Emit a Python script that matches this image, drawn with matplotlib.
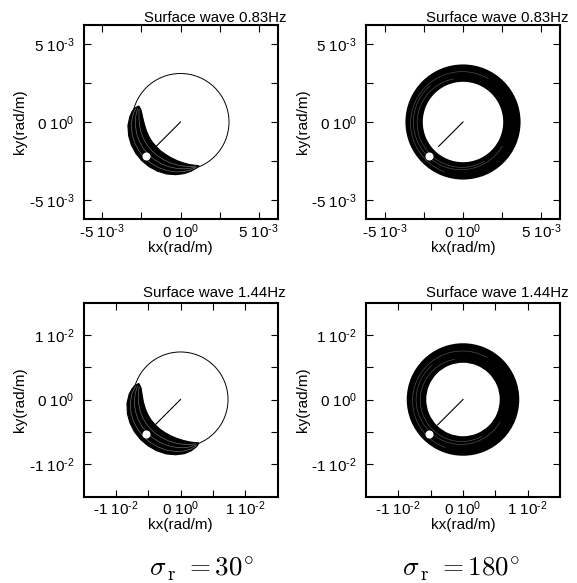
import numpy as np
import matplotlib.pyplot as plt
from matplotlib.patches import Circle, Wedge, Arc, Polygon

plt.rcParams['font.family'] = 'Liberation Sans'
plt.rcParams['mathtext.fontset'] = 'custom'
plt.rcParams['mathtext.rm'] = 'Liberation Sans'
plt.rcParams['mathtext.it'] = 'Liberation Sans:italic'
plt.rcParams['mathtext.bf'] = 'Liberation Sans:bold'

# ---- values ----
titles = ['Surface wave 0.83Hz', 'Surface wave 1.44Hz']
sigma_r = [30, 180]
ax_lim = [6.2e-3, 1.5e-2]

ticks_083 = [-5e-3, -2.5e-3, 0.0, 2.5e-3, 5e-3]
ticklabels_083 = [r'-5 $10^{\text{-}3}$', '', r'0 $10^{0}$', '', r'5 $10^{\text{-}3}$']
ticks_144 = [-1e-2, -5e-3, 0.0, 5e-3, 1e-2]
ticklabels_144 = [r'-1 $10^{\text{-}2}$', '', r'0 $10^{0}$', '', r'1 $10^{\text{-}2}$']

k_circle_r = [3.10e-3, 7.35e-3]      # thin wavenumber circle (left panels)
beam_angle = 225.0                   # direction of the source line / dot (deg)
beam_len = [2.20e-3, 5.55e-3]
dot_r = [3.10e-3, 7.45e-3]

# crescent outline (sigma_r = 30): polar angle (deg), inner / outer radius (1e-3 rad/m)
cres_ang = [159, 163, 168, 174, 184, 195, 205, 215, 225, 235, 245, 255, 265, 274, 282, 289, 293]
cres_in_083 = [2.85, 2.64, 2.52, 2.42, 2.31, 2.25, 2.22, 2.21, 2.21, 2.24, 2.28, 2.36, 2.48, 2.62, 2.78, 2.93, 3.03]
cres_out_083 = [2.85, 3.06, 3.17, 3.26, 3.37, 3.43, 3.47, 3.49, 3.50, 3.49, 3.47, 3.44, 3.38, 3.31, 3.22, 3.12, 3.03]
cres_in_144 = [6.90, 6.40, 6.15, 5.95, 5.75, 5.62, 5.56, 5.54, 5.54, 5.58, 5.66, 5.82, 6.05, 6.35, 6.70, 7.05, 7.30]
cres_out_144 = [6.90, 7.40, 7.70, 7.98, 8.30, 8.50, 8.62, 8.70, 8.74, 8.75, 8.74, 8.70, 8.58, 8.40, 8.10, 7.70, 7.30]
cres_grey_frac = [0.3, 0.55, 0.8]

# ring (sigma_r = 180): inner / outer radius
ring_083 = [2.57e-3, 3.68e-3]
ring_144 = [5.68e-3, 8.70e-3]
# faint lighter tracks inside the ring: radius, centre dx, dy, from / to angle
ring_grey_083 = [(2.85e-3, -0.08e-3, -0.05e-3, 100, 300), (3.05e-3, -0.12e-3, 0.0, 130, 330),
                 (3.30e-3, -0.05e-3, -0.08e-3, 60, 250)]
ring_grey_144 = [(6.40e-3, -0.20e-3, -0.10e-3, 100, 300), (6.95e-3, -0.30e-3, 0.0, 130, 330),
                 (7.70e-3, -0.10e-3, -0.20e-3, 60, 250)]

fig = plt.figure(figsize=(5.77, 5.83), dpi=100)

W, H = 577.0, 583.0
axw, axh = 194.0, 194.0
lefts = [83.5, 366.0]
tops = [25.0, 302.5]
FS = 11


def polar(r, ang):
    a = np.deg2rad(ang)
    return np.asarray(r) * np.cos(a), np.asarray(r) * np.sin(a)


def style_axes(ax, lim, ticks, labels):
    ax.set_xlim(-lim, lim)
    ax.set_ylim(-lim, lim)
    ax.set_xticks(ticks)
    ax.set_yticks(ticks)
    ax.set_xticklabels(labels)
    ax.set_yticklabels(labels)
    ax.tick_params(direction='in', top=True, right=True, length=4.8, width=0.8,
                   labelsize=FS)
    ax.tick_params(axis='y', pad=6.5)
    ax.tick_params(axis='x', pad=2.2)
    for s in ax.spines.values():
        s.set_linewidth(1.5)
    ax.set_xlabel('kx(rad/m)', fontsize=FS)
    ax.set_ylabel('ky(rad/m)', fontsize=FS)
    ax.xaxis.set_label_coords(0.5, -0.112)
    ax.yaxis.set_label_coords(-0.29, 0.5)


for row in range(2):
    lim = ax_lim[row]
    ticks = [ticks_083, ticks_144][row]
    labels = [ticklabels_083, ticklabels_144][row]
    for col in range(2):
        rect = [lefts[col] / W, 1 - (tops[row] + axh) / H, axw / W, axh / H]
        ax = fig.add_axes(rect)
        style_axes(ax, lim, ticks, labels)
        ax.text(1 + 8.5 / axw, 1 + (2.5 if row == 0 else 5.5) / axh, titles[row],
                transform=ax.transAxes, ha='right', va='baseline', fontsize=10.8)

        if col == 0:
            ax.add_patch(Circle((0, 0), k_circle_r[row], fill=False, ec='black', lw=0.7))
            rin = np.array([cres_in_083, cres_in_144][row]) * 1e-3
            rout = np.array([cres_out_083, cres_out_144][row]) * 1e-3
            xo, yo = polar(rout, cres_ang)
            xi, yi = polar(rin, cres_ang)
            poly = np.column_stack([np.r_[xo, xi[::-1]], np.r_[yo, yi[::-1]]])
            ax.add_patch(Polygon(poly, closed=True, fc='black', ec='black', lw=0.8))
            for f in cres_grey_frac:
                xg, yg = polar(rin + f * (rout - rin), cres_ang)
                ax.plot(xg[1:-1], yg[1:-1], color='0.42', lw=0.5)
        else:
            rin, rout = [ring_083, ring_144][row]
            ax.add_patch(Wedge((0, 0), rout, 0, 360, width=rout - rin, fc='black', ec='none'))
            for r, dx, dy, a1, a2 in [ring_grey_083, ring_grey_144][row]:
                ax.add_patch(Arc((dx, dy), 2 * r, 2 * r, theta1=a1, theta2=a2,
                                 ec='0.3', lw=0.5))

        bx, by = polar(beam_len[row], beam_angle)
        ax.plot([0, bx], [0, by], color='black', lw=0.8)
        dx_, dy_ = polar(dot_r[row], beam_angle)
        ax.plot([dx_], [dy_], 'o', color='white', mec='white', ms=4.8)

sig_x = [201.0, 461.5]
for col in range(2):
    fig.text(sig_x[col] / W, 1 - 576.5 / H,
             r'$\sigma_{\,\mathrm{r}}\ =%d^{\circ}$' % sigma_r[col],
             ha='center', va='baseline', fontsize=19.5, math_fontfamily='cm')

fig.savefig('out.png', dpi=100)
